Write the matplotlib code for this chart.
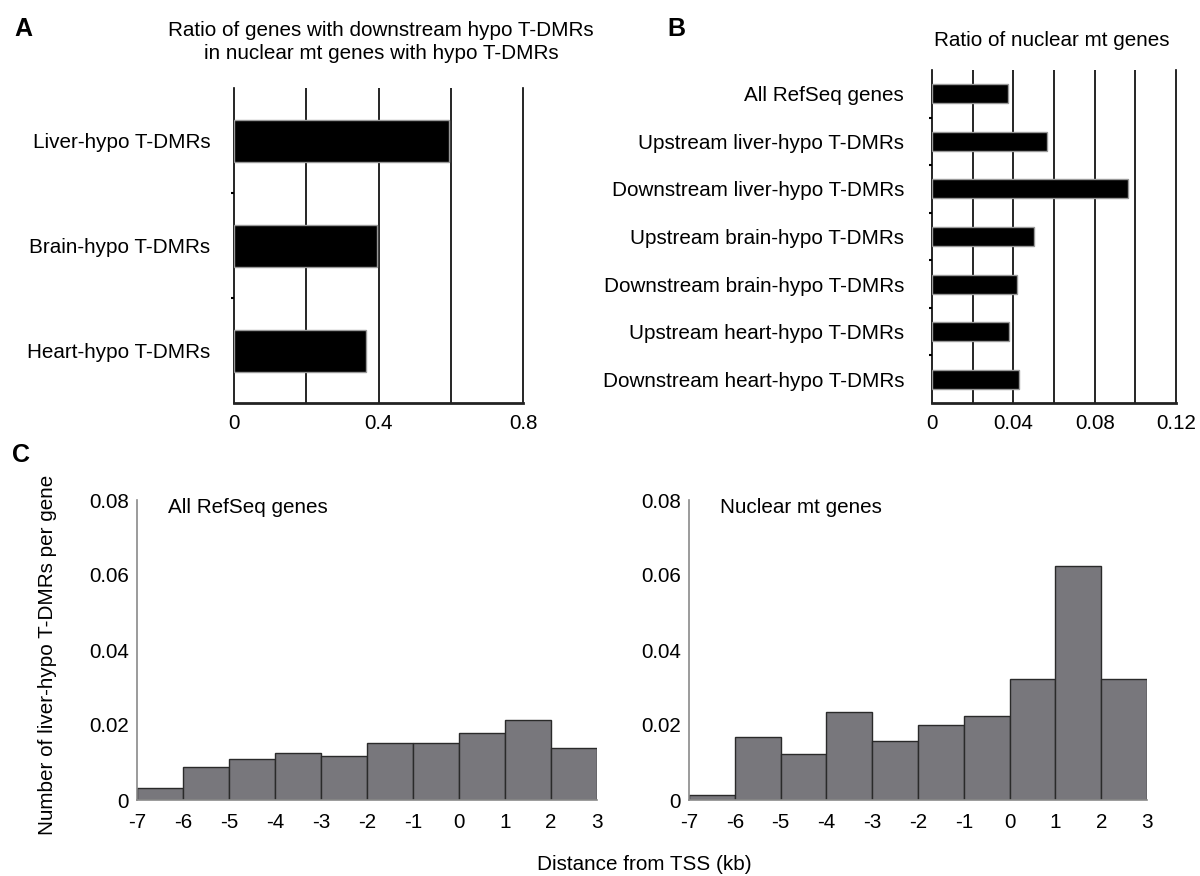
import numpy as np
import matplotlib
matplotlib.use("Agg")
import matplotlib.pyplot as plt

plt.rcParams['font.family'] = ['Liberation Sans', 'DejaVu Sans']

# Panel A
a_labels = ['Liver-hypo T-DMRs', 'Brain-hypo T-DMRs', 'Heart-hypo T-DMRs']
a_values = [0.595, 0.397, 0.365]

# Panel B
b_labels = ['All RefSeq genes',
            'Upstream liver-hypo T-DMRs',
            'Downstream liver-hypo T-DMRs',
            'Upstream brain-hypo T-DMRs',
            'Downstream brain-hypo T-DMRs',
            'Upstream heart-hypo T-DMRs',
            'Downstream heart-hypo T-DMRs']
b_values = [0.0375, 0.0564, 0.0965, 0.0503, 0.0418, 0.0378, 0.0427]

# Panel C (bins of 1 kb from -7 to 3)
c_edges = [-7, -6, -5, -4, -3, -2, -1, 0, 1, 2, 3]
c_refseq = [0.0033, 0.0088, 0.0109, 0.0125, 0.0117, 0.0152, 0.0152, 0.0178, 0.0213, 0.0140]
c_nuclear = [0.0013, 0.0168, 0.0123, 0.0235, 0.0157, 0.0201, 0.0223, 0.0324, 0.0623, 0.0324]

FS = 14.9
W, H = 1200, 876


def fig_rect(x0, y0, x1, y1):
    # pixel box -> figure fraction
    return [x0 / W, 1 - y1 / H, (x1 - x0) / W, (y1 - y0) / H]


def hbar_panel(ax, labels, values, xmax, step, label_step, pad):
    y = np.arange(len(labels))
    ax.barh(y, values, height=0.4, color='black', edgecolor='#999999', linewidth=1, zorder=3)
    ax.set_ylim(len(labels) - 0.5, -0.5)
    ax.set_xlim(0, xmax)
    for g in np.arange(step, xmax - step / 2, step):
        ax.axvline(g, color='black', linewidth=1.2, zorder=2)
    ax.set_yticks(y)
    ax.set_yticklabels(labels, fontsize=FS)
    ax.set_yticks(np.arange(0.5, len(labels) - 0.5, 1), minor=True)
    ax.tick_params(axis='y', which='major', length=0, pad=pad)
    ax.tick_params(axis='y', which='minor', length=2, width=1.5, direction='out')
    ticks = np.arange(0, xmax + label_step / 2, label_step)
    ax.set_xticks(ticks)
    ax.set_xticklabels(['0'] + [f'{t:g}' for t in ticks[1:]], fontsize=FS)
    ax.tick_params(axis='x', length=0, pad=8)
    ax.spines['top'].set_visible(False)
    ax.spines['right'].set_linewidth(1.2)
    ax.spines['left'].set_linewidth(1.2)
    ax.spines['bottom'].set_linewidth(2)
    ax.spines['bottom'].set_color('#222222')


def hist_panel(ax, edges, values, note):
    edges = np.array(edges)
    ax.bar(edges[:-1], values, width=np.diff(edges), align='edge',
           color='#78777c', edgecolor='#2a2a2a', linewidth=1)
    ax.set_xlim(edges[0], edges[-1])
    ax.set_ylim(0, 0.08)
    ax.set_xticks(edges)
    ax.set_xticklabels([str(e) for e in edges], fontsize=FS)
    ax.set_yticks([0, 0.02, 0.04, 0.06, 0.08])
    ax.set_yticklabels(['0', '0.02', '0.04', '0.06', '0.08'], fontsize=FS)
    ax.tick_params(axis='x', length=0, pad=9)
    ax.tick_params(axis='y', length=0, pad=6)
    for s in ['top', 'right']:
        ax.spines[s].set_visible(False)
    for s in ['left', 'bottom']:
        ax.spines[s].set_color('#8a8a8a')
        ax.spines[s].set_linewidth(1.2)
    ax.text(0.068, 0.975, note, transform=ax.transAxes, fontsize=FS, va='center', ha='left')


fig = plt.figure(figsize=(12, 8.76), dpi=100)

axA = fig.add_axes(fig_rect(234, 88, 523, 403))
hbar_panel(axA, a_labels, a_values, 0.8, 0.2, 0.4, 17)

axB = fig.add_axes(fig_rect(932, 70, 1176, 403))
hbar_panel(axB, b_labels, b_values, 0.12, 0.02, 0.04, 20)

axC1 = fig.add_axes(fig_rect(137, 500, 597, 800))
hist_panel(axC1, c_edges, c_refseq, 'All RefSeq genes')

axC2 = fig.add_axes(fig_rect(689, 500, 1147, 800))
hist_panel(axC2, c_edges, c_nuclear, 'Nuclear mt genes')

# titles and labels
fig.text(381 / W, 1 - 42 / H, 'Ratio of genes with downstream hypo T-DMRs\nin nuclear mt genes with hypo T-DMRs',
         ha='center', va='center', fontsize=FS, linespacing=1.3)
fig.text(1052 / W, 1 - 40 / H, 'Ratio of nuclear mt genes', ha='center', va='center', fontsize=FS)

fig.text(14 / W, 1 - 29 / H, 'A', fontsize=18, fontweight='bold', va='center', ha='left')
fig.text(667 / W, 1 - 29 / H, 'B', fontsize=18, fontweight='bold', va='center', ha='left')
fig.text(12 / W, 1 - 455 / H, 'C', fontsize=18, fontweight='bold', va='center', ha='left')

fig.text(48 / W, 1 - 655 / H, 'Number of liver-hypo T-DMRs per gene', rotation=90,
         ha='center', va='center', fontsize=FS)
fig.text(644 / W, 1 - 864 / H, 'Distance from TSS (kb)', ha='center', va='center', fontsize=FS)

fig.savefig('out.png', dpi=100)
